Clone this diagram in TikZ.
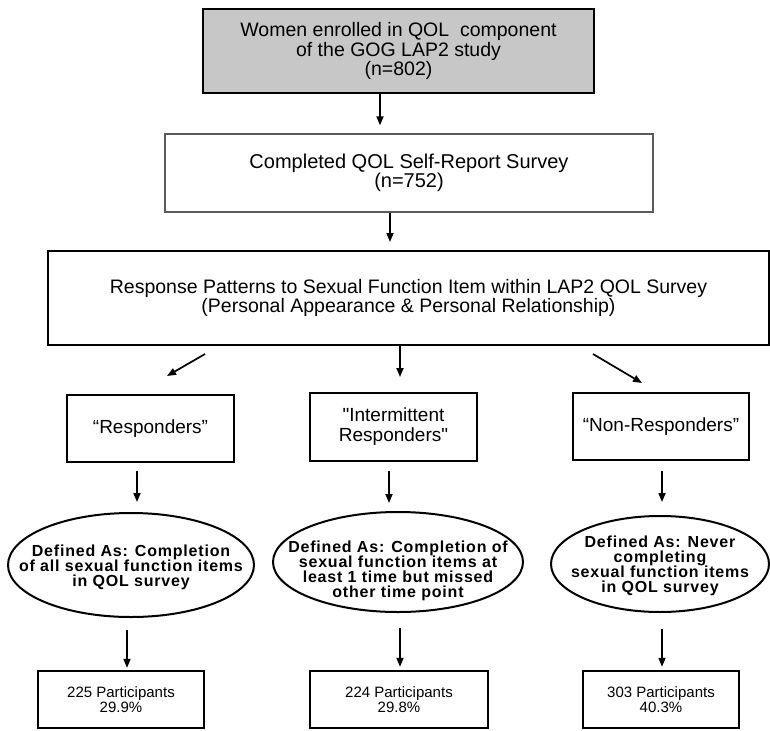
\documentclass[tikz,border=0pt]{standalone}
\usepackage{fontspec}
\setmainfont{Liberation Sans}
\newfontfamily\ellfont[LetterSpace=5]{Liberation Sans}
\usetikzlibrary{shapes.geometric,arrows.meta,calc}
\begin{document}
\begin{tikzpicture}[x=1pt,y=-1pt,
  box/.style={draw, line width=2pt, inner sep=0pt, align=center},
  ellshape/.style={draw, ellipse, line width=2pt, inner sep=0pt},
  elltext/.style={align=center, font=\ellfont\bfseries\fontsize{16}{15}\selectfont},
  lvl/.style={box, font=\fontsize{19}{20}\selectfont},
  res/.style={box, line width=2.3pt, font=\fontsize{15}{13}\selectfont},
  arr/.style={line width=1.7pt, -{Triangle[length=9pt,width=7pt]}}]
\useasboundingbox (0,0) rectangle (770,730);

\node[box, fill=black!22, minimum width=391pt, minimum height=84pt,
      font=\fontsize{19.5}{19.5}\selectfont] (top) at (398.5,51)
  {Women enrolled in QOL\ \ component\\of the GOG LAP2 study\\(n=802)};
\node[box, draw=black!65, line width=1.3pt, minimum width=488pt, minimum height=78pt,
      font=\fontsize{20}{18}\selectfont] (box2) at (409,173)
  {Completed QOL Self-Report Survey\\(n=752)};
\node[box, minimum width=721pt, minimum height=94pt,
      font=\fontsize{19.5}{18}\selectfont] (box3) at (408.5,298)
  {Response Patterns to Sexual Function Item within LAP2 QOL Survey\\(Personal Appearance \& Personal Relationship)};

\node[lvl, minimum width=167pt, minimum height=67pt] (R) at (150.5,428.5) {“Responders”};
\node[lvl, minimum width=167pt, minimum height=68pt] (I) at (393.5,427) {\textquotedbl Intermittent\\Responders\textquotedbl};
\node[lvl, minimum width=176pt, minimum height=67pt] (N) at (661,426.5) {“Non-Responders”};

\node[ellshape, minimum width=246pt, minimum height=104pt] (ellL) at (131,565) {};
\node[ellshape, minimum width=250pt, minimum height=100pt] (ellM) at (398,562) {};
\node[ellshape, minimum width=218pt, minimum height=96pt] (ellR) at (660,564) {};
\node[elltext] (tL) at (131,567) {Defined As: Completion\\of all sexual function items\\in QOL survey};
\node[elltext] (tM) at (398,571) {Defined As: Completion of\\sexual function items at\\least 1 time but missed\\other time point};
\node[elltext] (tR) at (660,566) {Defined As: Never\\completing\\sexual function items\\in QOL survey};

\node[res, minimum width=166pt, minimum height=57pt] (BL) at (121,699.5) {225 Participants\\29.9\%};
\node[res, minimum width=178pt, minimum height=57pt] (BM) at (399,699.5) {224 Participants\\29.8\%};
\node[res, minimum width=156pt, minimum height=57pt] (BR) at (661,699.5) {303 Participants\\40.3\%};

\draw[arr] ($(top.south)+(-18.5,0)$) -- ($(box2.north)+(-29,-8)$);
\draw[arr] ($(box2.south)+(-19,0)$) -- ($(box3.north)+(-18.5,-8)$);
\draw[arr] ($(box3.south)+(-203.5,8)$) -- ($(R.north)+(16.5,-18)$);
\draw[arr] ($(box3.south)+(-8.5,0)$) -- ($(I.north)+(6.5,-15)$);
\draw[arr] ($(box3.south)+(184.5,8)$) -- ($(N.north)+(-19,-9)$);
\draw[arr] ($(R.south)+(-13.5,8)$) -- ($(ellL.north)+(6,-10)$);
\draw[arr] ($(I.south)+(-4.5,9)$) -- ($(ellM.north)+(-9,-8)$);
\draw[arr] ($(N.south)+(1,10)$) -- ($(ellR.north)+(2,-13)$);
\draw[arr] ($(ellL.south)+(-4,12)$) -- ($(BL.north)+(6,-2)$);
\draw[arr] ($(ellM.south)+(2,15)$) -- ($(BM.north)+(1,-3)$);
\draw[arr] ($(ellR.south)+(2,16)$) -- ($(BR.north)+(1,-3)$);
\end{tikzpicture}
\end{document}
